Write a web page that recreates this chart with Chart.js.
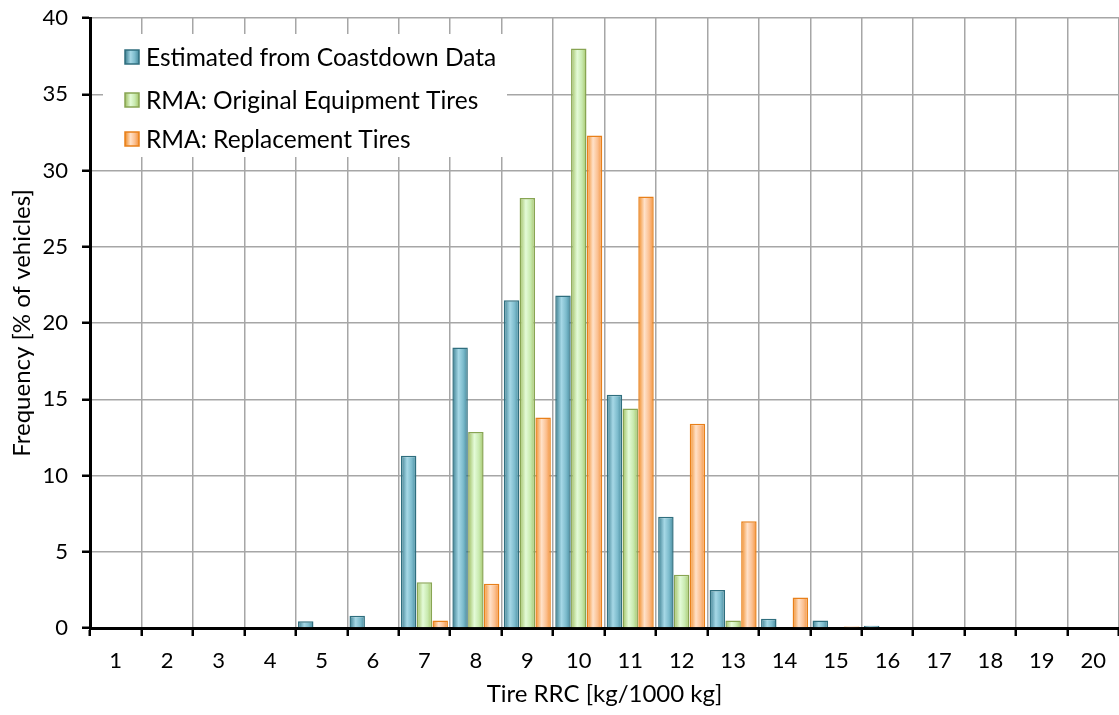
<!DOCTYPE html>
<html>
<head>
<meta charset="utf-8">
<script src="https://cdn.jsdelivr.net/npm/chart.js@4.4.1/dist/chart.umd.min.js"></script>
<style>
  html, body { margin: 0; padding: 0; background: #ffffff; }
  #wrap { width: 1119px; height: 715px; position: relative; }
</style>
</head>
<body>
<div id="wrap"><canvas id="c" width="1119" height="715"></canvas></div>
<script>
// ---- data ----
const categories = ['1','2','3','4','5','6','7','8','9','10','11','12','13','14','15','16','17','18','19','20'];
const seriesNames = ['Estimated from Coastdown Data', 'RMA: Original Equipment Tires', 'RMA: Replacement Tires'];
const coastdown   = [0, 0, 0, 0, 0.45, 0.8, 11.3, 18.4, 21.5, 21.8, 15.3, 7.3, 2.5, 0.6, 0.5, 0.15, 0, 0, 0, 0];
const originalEq  = [0, 0, 0, 0, 0, 0, 3.0, 12.85, 28.2, 38.0, 14.4, 3.5, 0.5, 0, 0, 0, 0, 0, 0, 0];
const replacement = [0, 0, 0, 0, 0, 0, 0.5, 2.9, 13.8, 32.3, 28.3, 13.4, 7.0, 2.0, 0.1, 0, 0, 0, 0, 0];
const yTicks = [0, 5, 10, 15, 20, 25, 30, 35, 40];

const FONT = 'Lato, "Open Sans", sans-serif';
const CAT_PCT = 0.92, BAR_PCT = 0.98;

const palettes = [
  { border: '#2f6e7e', stops: ['#3a7d8f', '#a6d8e6', '#7dbccd', '#468a9d'] },
  { border: '#88a553', stops: ['#9dbd5f', '#e4fbd8', '#c9eab0', '#a5c56a'] },
  { border: '#e8801a', stops: ['#f08a22', '#ffe1c9', '#fbc091', '#f4923a'] }
];

function makeGrad(c, x0, x1, pal) {
  const g = c.createLinearGradient(x0, 0, x1, 0);
  g.addColorStop(0, pal.stops[0]);
  g.addColorStop(0.4, pal.stops[1]);
  g.addColorStop(0.7, pal.stops[2]);
  g.addColorStop(1, pal.stops[3]);
  return g;
}

function barFill(dsIndex) {
  return function (ctx) {
    const pal = palettes[dsIndex];
    const chart = ctx.chart;
    const xs = chart.scales && chart.scales.x;
    if (ctx.type !== 'data' || !xs || !chart.chartArea || !isFinite(xs.width)) return pal.stops[0];
    const cw = xs.width / categories.length;
    const group = cw * CAT_PCT;
    const bw = group / 3 * BAR_PCT;
    const center = xs.getPixelForValue(ctx.dataIndex);
    const bc = center - group / 2 + (dsIndex + 0.5) * group / 3;
    return makeGrad(chart.ctx, bc - bw / 2, bc + bw / 2, pal);
  };
}

const legendPlugin = {
  id: 'insideLegend',
  beforeDatasetsDraw(chart) {
    const c = chart.ctx;
    c.save();
    c.fillStyle = '#ffffff';
    c.fillRect(103, 34, 404, 123);
    const rows = [57, 100, 139];
    c.font = '24.5px ' + FONT;
    c.textBaseline = 'middle';
    c.textAlign = 'left';
    chart.data.datasets.forEach((ds, i) => {
      const pal = palettes[i];
      const y = rows[i];
      const bx = 125, by = y - 7, s = 14;
      c.fillStyle = makeGrad(c, bx, bx + s, pal);
      c.fillRect(bx, by, s, s);
      c.strokeStyle = pal.border;
      c.lineWidth = 1.5;
      c.strokeRect(bx, by, s, s);
      c.fillStyle = '#000000';
      c.fillText(ds.label, 146, y + 1);
    });
    c.restore();
  }
};

const datasets = [coastdown, originalEq, replacement].map((vals, i) => ({
  label: seriesNames[i],
  data: vals,
  backgroundColor: barFill(i),
  borderColor: palettes[i].border,
  borderWidth: 1.5,
  borderSkipped: 'bottom',
  categoryPercentage: CAT_PCT,
  barPercentage: BAR_PCT
}));

new Chart(document.getElementById('c'), {
  type: 'bar',
  data: { labels: categories, datasets: datasets },
  plugins: [legendPlugin],
  options: {
    responsive: false,
    devicePixelRatio: 1,
    animation: false,
    layout: { padding: { top: 18, right: 0, bottom: 0, left: 0 } },
    plugins: {
      legend: { display: false },
      tooltip: { enabled: false }
    },
    scales: {
      x: {
        type: 'category',
        offset: true,
        grid: {
          offset: true,
          color: '#a6a6a6',
          lineWidth: 1.5,
          drawTicks: true,
          tickLength: 8,
          tickColor: '#000000',
          tickWidth: 2.5
        },
        border: { display: true, color: '#000000', width: 3 },
        ticks: {
          color: '#000000',
          font: { family: FONT, size: 22 },
          padding: 12,
          maxRotation: 0,
          autoSkip: false
        },
        title: {
          display: true,
          text: 'Tire RRC [kg/1000 kg]',
          color: '#000000',
          font: { family: FONT, size: 24 },
          padding: { top: 4, bottom: 6 }
        },
        afterFit(scale) {
          scale.height = 87;
          scale.paddingLeft = 0; scale.paddingRight = 0;
        }
      },
      y: {
        min: 0,
        max: 40,
        afterBuildTicks(scale) { scale.ticks = yTicks.map(v => ({ value: v })); },
        grid: {
          color: '#a6a6a6',
          lineWidth: 1.5,
          drawTicks: true,
          tickLength: 8,
          tickColor: '#000000',
          tickWidth: 2.5
        },
        border: { display: true, color: '#000000', width: 3 },
        ticks: {
          color: '#000000',
          font: { family: FONT, size: 22 },
          padding: 14
        },
        title: {
          display: true,
          text: 'Frequency [% of vehicles]',
          color: '#000000',
          font: { family: FONT, size: 24 },
          padding: { top: 8, bottom: 4 }
        },
        afterFit(scale) {
          scale.width = 90;
          scale.paddingTop = 0; scale.paddingBottom = 0;
        }
      }
    }
  }
});
</script>
</body>
</html>
